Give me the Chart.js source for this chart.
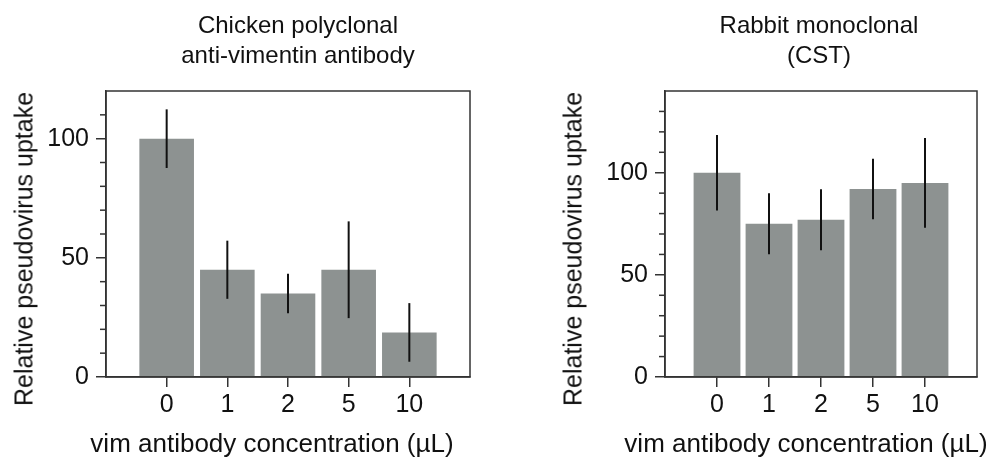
<!DOCTYPE html>
<html>
<head>
<meta charset="utf-8">
<script src="https://cdn.jsdelivr.net/npm/chart.js@4.4.0/dist/chart.umd.min.js"></script>
<style>
  body { margin: 0; background: #fff; }
  #wrap { position: relative; width: 990px; height: 457px; font-family: "Liberation Sans", Arial, sans-serif; color: #111; }
  .panel { position: absolute; top: 0; }
  .title { position: absolute; top: 10px; width: 320px; text-align: center; font-size: 24px; line-height: 30px; }
  .xtitle { position: absolute; top: 430px; width: 420px; text-align: center; font-size: 26px; line-height: 26px; white-space: nowrap; }
  .ytitle { position: absolute; font-size: 25px; line-height: 25px; white-space: nowrap; transform: translate(-50%, -50%) rotate(-90deg); }
</style>
</head>
<body>
<div id="wrap">
  <canvas id="chickenChart" class="panel" style="left:0" width="495" height="457"></canvas>
  <canvas id="rabbitChart" class="panel" style="left:495px" width="495" height="457"></canvas>

  <div class="title" style="left:138px">Chicken polyclonal<br>anti-vimentin antibody</div>
  <div class="title" style="left:659px">Rabbit monoclonal<br>(CST)</div>

  <div class="ytitle" style="left:24px; top:249px">Relative pseudovirus uptake</div>
  <div class="ytitle" style="left:573px; top:249px">Relative pseudovirus uptake</div>

  <div class="xtitle" style="left:62px">vim antibody concentration (µL)</div>
  <div class="xtitle" style="left:596px">vim antibody concentration (µL)</div>
</div>

<script>
// vim antibody concentration (µL)
const doseLabels = ["0", "1", "2", "5", "10"];

// chicken polyclonal anti-vimentin antibody
const chickenUptake = [100, 45, 35, 45, 18.7];
const chickenErr = [12.3, 12.2, 8.3, 20.3, 12.3];
const chickenTicks = [0, 50, 100];

// rabbit monoclonal (CST)
const rabbitUptake = [100, 75, 77, 92, 95];
const rabbitErr = [18.5, 14.9, 14.9, 14.8, 22];
const rabbitTicks = [0, 50, 100];

const BAR = "#8d9291";
const AXIS = "#333";
const TEXT = "#111";

Chart.defaults.font.family = '"Liberation Sans", Arial, sans-serif';
Chart.defaults.color = TEXT;

// frame around the plot area
const boxPlugin = {
  id: "box",
  afterDraw(chart) {
    const { ctx, chartArea: a } = chart;
    ctx.save();
    ctx.strokeStyle = AXIS;
    ctx.lineWidth = 1.5;
    ctx.strokeRect(a.left, a.top, a.right - a.left, a.bottom - a.top);
    ctx.restore();
  }
};

// short ticks every 10 units between the labelled ones
const minorTicksPlugin = {
  id: "minorTicks",
  afterDraw(chart, args, opts) {
    const y = chart.scales.y;
    const ctx = chart.ctx;
    ctx.save();
    ctx.strokeStyle = AXIS;
    ctx.lineWidth = 1.5;
    for (let v = y.min; v < y.max; v += opts.step) {
      if (v % opts.major === 0) continue;
      const py = y.getPixelForValue(v);
      ctx.beginPath();
      ctx.moveTo(y.right - opts.length, py);
      ctx.lineTo(y.right, py);
      ctx.stroke();
    }
    ctx.restore();
  }
};

// vertical error bars (mean ± err)
const errorBarPlugin = {
  id: "errorBars",
  afterDatasetsDraw(chart, args, opts) {
    const { ctx, scales: { x, y } } = chart;
    ctx.save();
    ctx.strokeStyle = "#111";
    ctx.lineWidth = 2;
    opts.values.forEach((v, i) => {
      const px = x.getPixelForValue(i);
      ctx.beginPath();
      ctx.moveTo(px, y.getPixelForValue(v + opts.errors[i]));
      ctx.lineTo(px, y.getPixelForValue(v - opts.errors[i]));
      ctx.stroke();
    });
    ctx.restore();
  }
};

function makeChart(id, values, errors, yMax, yTicks, area) {
  return new Chart(document.getElementById(id), {
    type: "bar",
    data: {
      datasets: [{
        data: values.map((v, i) => ({ x: i, y: v })),
        backgroundColor: BAR,
        borderWidth: 0,
        categoryPercentage: 1,
        barPercentage: 0.9,
      }]
    },
    options: {
      responsive: false,
      animation: false,
      layout: { padding: { left: 0, top: area.top, right: 495 - area.right, bottom: 0 } },
      plugins: {
        legend: { display: false },
        tooltip: { enabled: false },
        minorTicks: { step: 10, major: 50, length: 6 },
        errorBars: { values, errors },
      },
      scales: {
        x: {
          type: "linear",
          min: -1,
          max: doseLabels.length,
          offset: false,
          afterBuildTicks: s => { s.ticks = doseLabels.map((_, i) => ({ value: i })); },
          afterFit: s => { s.height = 457 - area.bottom; },
          ticks: {
            autoSkip: false,
            maxRotation: 0,
            padding: 3,
            font: { size: 25 },
            color: TEXT,
            callback: v => doseLabels[v],
          },
          grid: { drawOnChartArea: false, offset: false, tickLength: 10, color: AXIS, lineWidth: 1.5 },
          border: { display: true, color: AXIS, width: 1.5 },
        },
        y: {
          min: 0,
          max: yMax,
          afterBuildTicks: s => { s.ticks = yTicks.map(v => ({ value: v })); },
          afterFit: s => { s.width = area.left; },
          ticks: { padding: 7, font: { size: 25 }, color: TEXT },
          grid: { drawOnChartArea: false, tickLength: 10, color: AXIS, lineWidth: 1.5 },
          border: { display: true, color: AXIS, width: 1.5 },
        }
      }
    },
    plugins: [errorBarPlugin, minorTicksPlugin, boxPlugin]
  });
}

makeChart("chickenChart", chickenUptake, chickenErr, 120, chickenTicks,
  { left: 106, top: 91, right: 470, bottom: 377 });
makeChart("rabbitChart", rabbitUptake, rabbitErr, 140, rabbitTicks,
  { left: 170, top: 91, right: 482, bottom: 377 });
</script>
</body>
</html>
